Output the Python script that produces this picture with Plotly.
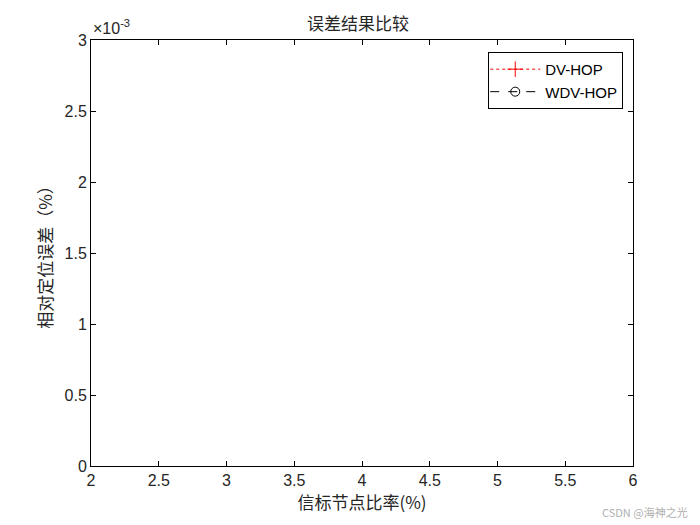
import plotly.graph_objects as go

# series (no points fall inside the visible range of the reference)
beacon_ratio = [None]
err_dvhop = [None]
err_wdvhop = [None]

x_ticks = [2, 2.5, 3, 3.5, 4, 4.5, 5, 5.5, 6]
y_ticks = [0, 0.0005, 0.001, 0.0015, 0.002, 0.0025, 0.003]
y_ticktext = ['0', '0.5', '1', '1.5', '2', '2.5', '3']

fig = go.Figure()
fig.add_trace(go.Scatter(
    x=beacon_ratio, y=err_dvhop, name='DV-HOP', mode='lines+markers',
    line=dict(color='red', dash='dot', width=1),
    marker=dict(symbol='cross-thin-open', size=11, color='red', line=dict(width=1, color='red'))))
fig.add_trace(go.Scatter(
    x=beacon_ratio, y=err_wdvhop, name='WDV-HOP', mode='lines+markers',
    line=dict(color='black', dash='dash', width=1),
    marker=dict(symbol='circle-open', size=9, color='black', line=dict(width=1, color='black'))))

axis_style = dict(
    showline=True, linecolor='black', linewidth=1, mirror='ticks',
    ticks='inside', ticklen=5, tickcolor='black', showgrid=False, zeroline=False,
    tickfont=dict(family='Liberation Sans, Arial', size=16, color='#262626'),
)

fig.update_xaxes(range=[2, 6], tickvals=x_ticks,
                 title=dict(text='信标节点比率(%)', standoff=4,
                            font=dict(family='Noto Sans CJK SC', size=17, color='#262626')),
                 **axis_style)
fig.update_yaxes(range=[0, 0.003], tickvals=y_ticks, ticktext=y_ticktext,
                 title=dict(text='相对定位误差（%）', standoff=7,
                            font=dict(family='Noto Sans CJK SC', size=17, color='#262626')),
                 **axis_style)

fig.update_layout(
    width=700, height=525,
    margin=dict(l=83, r=75, t=32, b=67),
    plot_bgcolor='white', paper_bgcolor='white',
    title=dict(text='误差结果比较', x=0.5, xanchor='center', y=0.97, yanchor='middle',
               font=dict(family='Noto Sans CJK SC', size=17, color='#262626')),
    legend=dict(x=0.982, y=0.972, xanchor='right', yanchor='top',
                bgcolor='white', bordercolor='black', borderwidth=1,
                font=dict(family='Liberation Sans, Arial', size=15, color='black'),
                itemwidth=50, tracegroupgap=0, indentation=-4),
    showlegend=True,
    annotations=[
        dict(text='×10<sup>-3</sup>', xref='paper', yref='paper', x=0, y=1,
             xanchor='left', yanchor='bottom', showarrow=False, yshift=1,
             font=dict(family='Liberation Sans, Arial', size=16, color='#262626')),
        dict(text='CSDN @海神之光', xref='paper', yref='paper', x=1.105, y=-0.108,
             xanchor='right', yanchor='middle', showarrow=False,
             font=dict(family='Noto Sans CJK SC', size=11, color='#b0b0b0')),
    ],
)

fig.write_html("out.html")
